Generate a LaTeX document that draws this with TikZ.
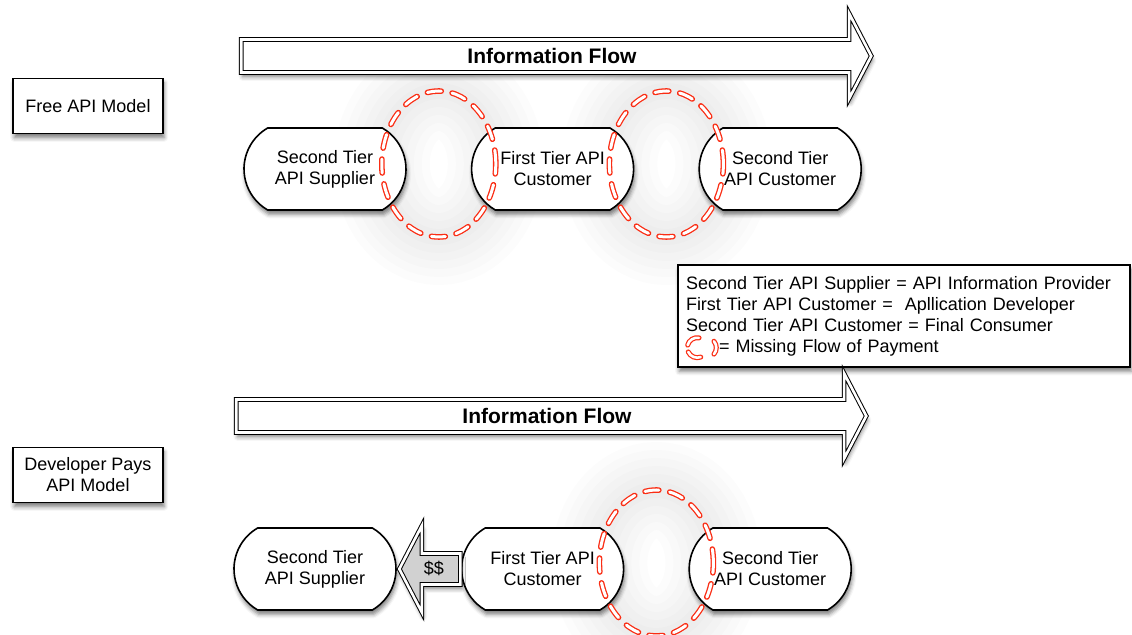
\documentclass[tikz,border=0pt]{standalone}
\usepackage{fontspec}
\setmainfont{Liberation Sans}
\usetikzlibrary{positioning,calc,shapes.misc,shapes.arrows,shapes.geometric,shadows.blur,backgrounds}
\definecolor{payred}{RGB}{250,45,20}

\begin{document}
\begin{tikzpicture}[x=0.5pt, y=-0.5pt, font=\fontsize{9}{10.5}\selectfont,
    node distance=32pt,
    shade/.style={blur shadow={shadow xshift=0.6pt, shadow yshift=-2.2pt, shadow blur radius=2pt, shadow opacity=50}},
    model/.style={draw, fill=white, line width=0.7pt, minimum width=75pt, minimum height=27.5pt, align=center, shade},
    tier/.style={rounded rectangle, rounded rectangle arc length=120, draw, fill=white, line width=0.8pt,
        minimum width=81pt, minimum height=41pt, inner sep=0pt, align=center, shade},
    flow/.style={single arrow, draw, fill=white, double, double distance=1.3pt, line width=0.5pt,
        single arrow head extend=13pt, single arrow tip angle=125, minimum height=315pt,
        inner ysep=3pt, text height=8.75pt, text depth=1.25pt, font=\fontsize{10.5}{12}\selectfont\bfseries, shade},
    pay/.style={single arrow, shape border rotate=180, draw, fill=black!18, double, double distance=1.3pt, line width=0.5pt,
        single arrow head extend=14pt, single arrow tip angle=125, minimum height=30.5pt,
        inner xsep=1pt, inner ysep=3.5pt, text height=7pt, text depth=1pt, shade},
    gap/.style={ellipse, draw=payred, double=white, double distance=1.5pt, line width=0.65pt,
        dash pattern=on 7pt off 5.5pt, line cap=round, minimum width=57pt, minimum height=73pt, inner sep=0pt},
    payline/.style={draw=payred, double=white, double distance=1.3pt, line width=0.6pt, line cap=round},
    glow/.style={line width=#1, black, opacity=0.011}
    ]
    \useasboundingbox (0,0) rectangle (1132,635);

    % free model
    \node[model] (free) at (88,106) {Free API Model};
    \node[flow] (flow1) at (552,56) {Information Flow};
    \node[tier] (sup1) at (325,169) {Second Tier\\API Supplier};
    \node[tier, right=of sup1] (first1) {First Tier API\\Customer};
    \node[tier, right=of first1] (sec1) {Second Tier\\API Customer};
    \node[gap] (gap1) at ($(sup1.east)!0.5!(first1.west)+(0,-5)$) {};
    \node[gap] (gap2) at ($(first1.east)!0.5!(sec1.west)+(0,-5)$) {};

    % legend
    \node[draw, fill=white, line width=0.7pt, shade, minimum width=226pt, minimum height=51pt,
        text width=218pt, inner xsep=4pt, align=left] (legend) at (904,316)
        {Second Tier API Supplier = API Information Provider\\
         First Tier API Customer = \ Apllication Developer\\
         Second Tier API Customer = Final Consumer\\
         \hspace*{16.5pt}= Missing Flow of Payment};
    \coordinate (icon) at ($(legend.south west)+(20,-20)$);
    \draw[payline] (icon) ++(80:5pt) arc[start angle=80, end angle=165, radius=5pt];
    \draw[payline] (icon) ++(205:5pt) arc[start angle=205, end angle=290, radius=5pt];
    \draw[payline] ($(icon)+(9,0)$) ++(-40:5pt) arc[start angle=-40, end angle=40, radius=5pt];

    % developer pays model
    \node[model] (dev) at (88,475) {Developer Pays\\API Model};
    \node[flow] (flow2) at (547,416) {Information Flow};
    \node[tier] (sup2) at (315,569) {Second Tier\\API Supplier};
    \node[tier, right=of sup2] (first2) {First Tier API\\Customer};
    \node[tier, right=of first2] (sec2) {Second Tier\\API Customer};
    \node[pay, anchor=tail] (money) at (first2.west) {\$\$};
    \node[gap] (gap3) at ($(first2.east)!0.5!(sec2.west)+(0,-6)$) {};

    \begin{pgfonlayer}{background}
        \foreach \g in {gap1,gap2,gap3}
            \foreach \w in {8,16,...,48}
                \draw[glow=\w pt] (\g.center) ellipse [x radius=28.5pt, y radius=36.5pt];
    \end{pgfonlayer}
\end{tikzpicture}
\end{document}
